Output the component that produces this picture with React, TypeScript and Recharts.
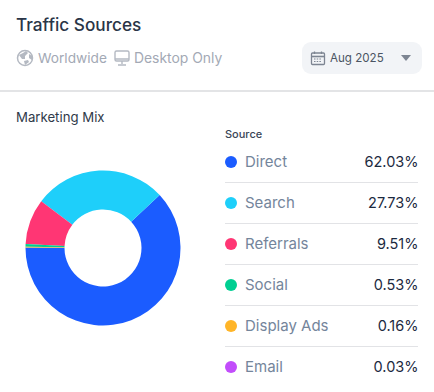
import React from 'react';
import { PieChart, Pie, Cell } from 'recharts';

const sources = ['Direct', 'Search', 'Referrals', 'Social', 'Display Ads', 'Email'];
const shares = [62.03, 27.73, 9.51, 0.53, 0.16, 0.03];
const colors = ['#1b5cff', '#1ecffa', '#ff3674', '#00cf92', '#ffb528', '#c24dfb'];

const chartData = sources.map((name, i) => ({ name, value: shares[i] }));

const FONT = 'Inter, sans-serif';

const abs = (left: number, top: number, extra: React.CSSProperties = {}): React.CSSProperties => ({
  position: 'absolute',
  left,
  top,
  whiteSpace: 'nowrap',
  ...extra,
});

const GlobeIcon = () => (
  <svg width="18" height="18" viewBox="0 0 18 18" style={abs(16, 49)}>
    <circle cx="9" cy="9" r="7.5" fill="#fff" stroke="#b4b9c2" strokeWidth="1.5" />
    <path d="M3 6 L7 4 L10 2 L12 4 L9 7 L9 10 L6 10 Z M8 12 L12 11 L13 13 L9 16 Z M13 5 L16 7 L16 11 L13 9 Z" fill="#b4b9c2" />
  </svg>
);

const MonitorIcon = () => (
  <svg width="18" height="18" viewBox="0 0 18 18" style={abs(113, 49)}>
    <rect x="2" y="2" width="14" height="10" rx="1.5" fill="none" stroke="#b4b9c2" strokeWidth="1.4" />
    <path d="M2 10 H16 M9 12 V15 M5 16 H13" stroke="#b4b9c2" strokeWidth="1.4" fill="none" />
  </svg>
);

const CalendarIcon = () => (
  <svg width="16" height="16" viewBox="0 0 16 16" style={abs(310, 50)}>
    <rect x="1.5" y="3" width="13" height="11.5" rx="1" fill="none" stroke="#7d8592" strokeWidth="1.3" />
    <path d="M1.5 6.5 H14.5" stroke="#7d8592" strokeWidth="1.6" />
    <path d="M4.5 1.5 V4 M11.5 1.5 V4" stroke="#7d8592" strokeWidth="1.3" />
    <path d="M4 9 H12 M4 11.5 H12" stroke="#7d8592" strokeWidth="1.2" strokeDasharray="1.5 1.2" />
  </svg>
);

export default function App() {
  return (
    <div style={{ position: 'absolute', left: 0, top: 0, width: 434, height: 392, background: '#fff', fontFamily: FONT, overflow: 'hidden' }}>
      <div style={abs(16, 14, { fontSize: 17.2, fontWeight: 500, color: '#2a3547', lineHeight: '22px' })}>Traffic Sources</div>
      <GlobeIcon />
      <div style={abs(38, 48, { fontSize: 13.7, color: '#a3a9b5', lineHeight: '20px' })}>Worldwide</div>
      <MonitorIcon />
      <div style={abs(134, 48, { fontSize: 13.9, color: '#a3a9b5', lineHeight: '20px' })}>Desktop Only</div>

      <div style={abs(302, 42, { width: 120, height: 32, borderRadius: 9, background: '#f2f4f7' })} />
      <CalendarIcon />
      <div style={abs(330, 48, { fontSize: 11.6, color: '#4b5563', lineHeight: '20px' })}>Aug 2025</div>
      <svg width="10" height="6" style={abs(401, 55)}>
        <path d="M0 0 H10 L5 6 Z" fill="#7d8592" />
      </svg>

      <div style={{ position: 'absolute', left: 0, top: 90, width: 434, height: 2, background: '#e3e4e6' }} />

      <div style={abs(16, 107, { fontSize: 13.2, color: '#2f3a4a', lineHeight: '20px' })}>Marketing Mix</div>

      <div style={{ position: 'absolute', left: 0, top: 150 }}>
        <PieChart width={206} height={196} margin={{ top: 0, right: 0, bottom: 0, left: 0 }}>
          <Pie
            data={chartData}
            dataKey="value"
            cx={103}
            cy={98}
            innerRadius={38.5}
            outerRadius={77.5}
            startAngle={179.7}
            endAngle={539.7}
            stroke="none"
            isAnimationActive={false}
          >
            {chartData.map((d, i) => (
              <Cell key={d.name} fill={colors[i]} />
            ))}
          </Pie>
        </PieChart>
      </div>

      <div style={abs(225, 126, { fontSize: 11, fontWeight: 500, color: '#3a4657', lineHeight: '16px' })}>Source</div>

      {sources.map((name, i) => {
        const y = 162 + i * 41;
        return (
          <React.Fragment key={name}>
            <div style={{ position: 'absolute', left: 225, top: y - 6, width: 12, height: 12, borderRadius: '50%', background: colors[i] }} />
            <div style={abs(245, y - 11, { fontSize: 15, color: '#74859b', lineHeight: '22px' })}>{name}</div>
            <div style={abs(318.5, y - 11, { width: 100, textAlign: 'right', fontSize: 14.5, color: '#1c2a3f', lineHeight: '22px' })}>
              {shares[i].toFixed(2)}%
            </div>
            {i < sources.length - 1 && (
              <div style={{ position: 'absolute', left: 225, top: y + 20, width: 193, height: 1, background: '#e2e3e6' }} />
            )}
          </React.Fragment>
        );
      })}
    </div>
  );
}
